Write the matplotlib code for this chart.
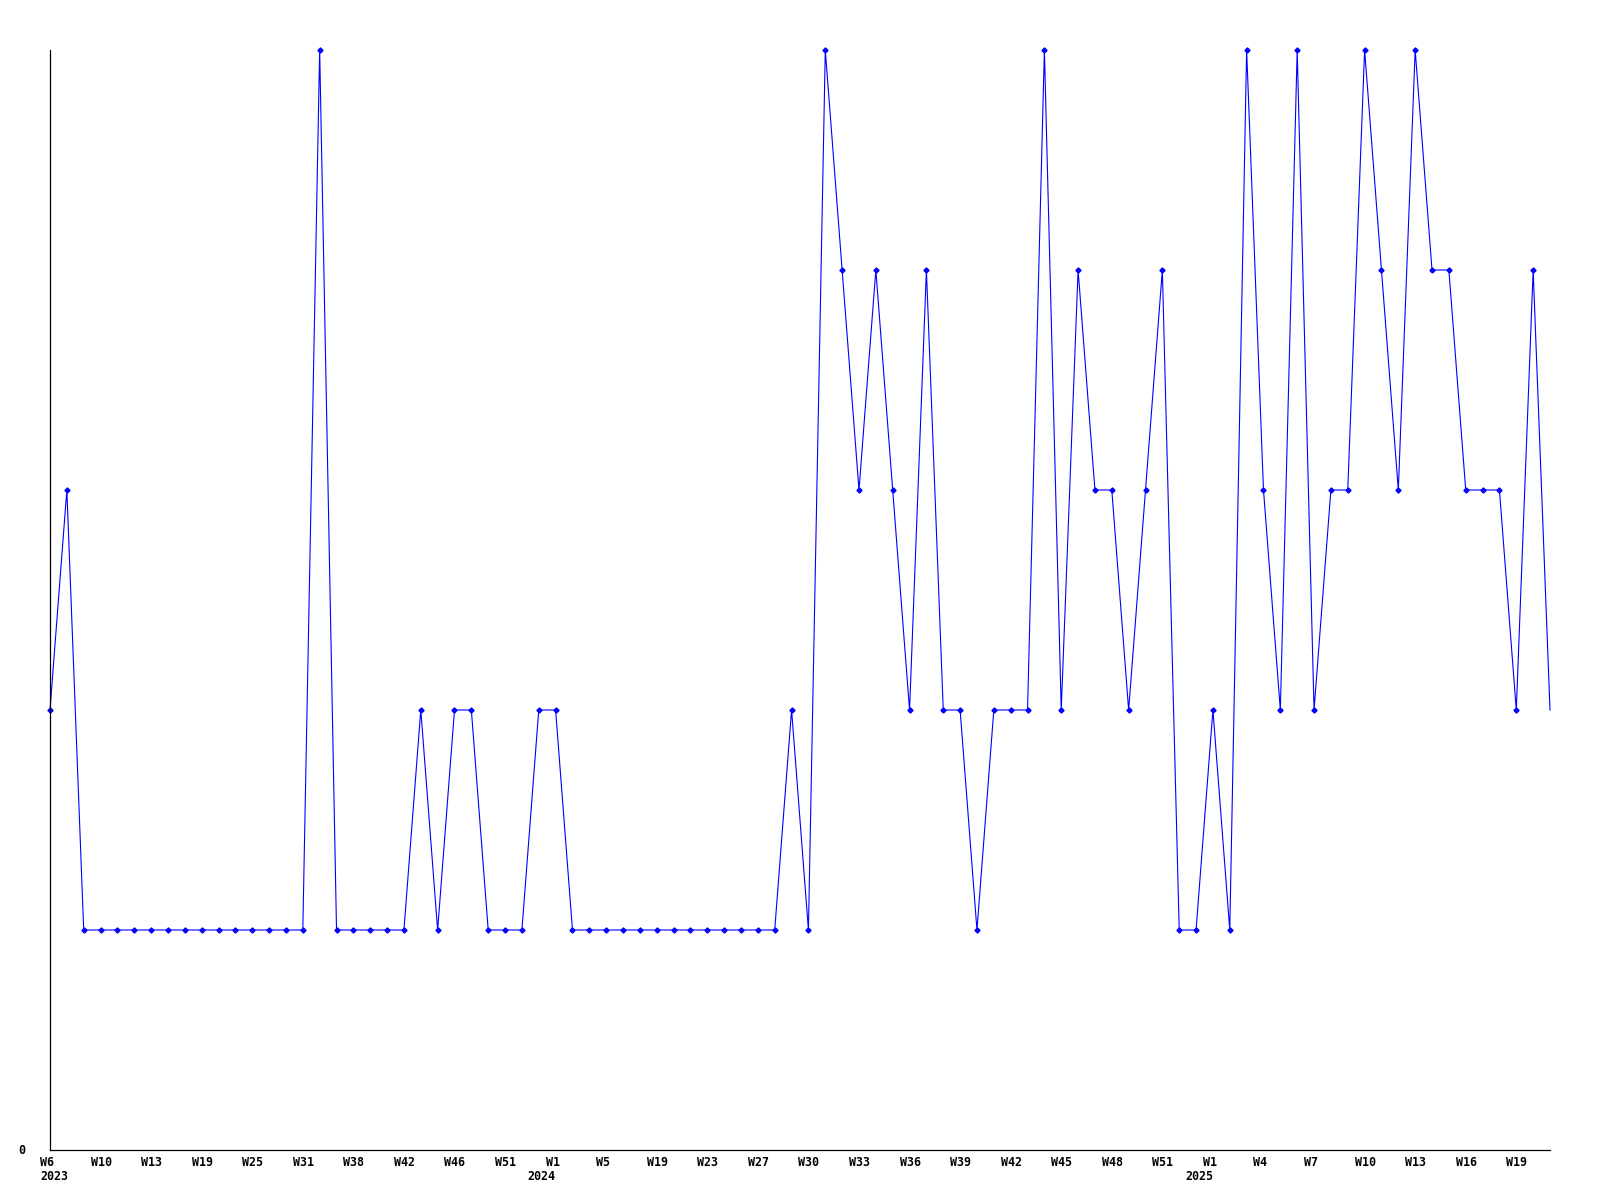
# weekly counts line chart, one point per week
import matplotlib.pyplot as plt
import matplotlib.transforms as mtransforms
import numpy as np

# weekly values, 90 weeks starting W6 2023
values = [2, 3, 1, 1, 1, 1, 1, 1, 1, 1, 1, 1, 1, 1, 1, 1, 5, 1, 1, 1,
          1, 1, 2, 1, 2, 2, 1, 1, 1, 2, 2, 1, 1, 1, 1, 1, 1, 1, 1, 1,
          1, 1, 1, 1, 2, 1, 5, 4, 3, 4, 3, 2, 4, 2, 2, 1, 2, 2, 2, 5,
          2, 4, 3, 3, 2, 3, 4, 1, 1, 2, 1, 5, 3, 2, 5, 2, 3, 3, 5, 4,
          3, 5, 4, 4, 3, 3, 3, 2, 4, 2]
# tick labels, one every 3 weeks
week_labels = ['W6', 'W10', 'W13', 'W19', 'W25', 'W31', 'W38', 'W42', 'W46', 'W51',
               'W1', 'W5', 'W19', 'W23', 'W27', 'W30', 'W33', 'W36', 'W39', 'W42',
               'W45', 'W48', 'W51', 'W1', 'W4', 'W7', 'W10', 'W13', 'W16', 'W19']
tick_step = 3
year_labels = {0: '2023', 30: '2024', 69: '2025'}

x = np.arange(len(values))

fig = plt.figure(figsize=(16, 12), dpi=100)
ax = fig.add_axes([50 / 1600, 50 / 1200, 1500 / 1600, 1100 / 1200])

ax.plot(x, values, color='#0000ff', linewidth=0.8, marker='D', markersize=2.6,
        markevery=list(range(len(values) - 1)), clip_on=False)

ax.set_xlim(0, len(values) - 1)
ax.set_ylim(0, 5)
for side in ['top', 'right']:
    ax.spines[side].set_visible(False)
for side in ['left', 'bottom']:
    ax.spines[side].set_linewidth(0.9)
    ax.spines[side].set_color('black')
ax.set_xticks([])
ax.set_yticks([])

font = dict(family='DejaVu Sans Mono', fontweight='bold', fontsize=8.4, color='black')
trans = mtransforms.blended_transform_factory(ax.transData, ax.transAxes)

# week labels under the axis
for i, lab in enumerate(week_labels):
    t = mtransforms.offset_copy(trans, fig=fig, x=-10, y=-12, units='dots')
    ax.text(x[i * tick_step], 0, lab, transform=t, ha='left', va='center', **font)

# year labels on a second row
for idx, yr in year_labels.items():
    dx = -10 if idx == 0 else -28
    t = mtransforms.offset_copy(trans, fig=fig, x=dx, y=-27, units='dots')
    ax.text(x[idx], 0, yr, transform=t, ha='left', va='center', **font)

# only the zero label on the y axis
t = mtransforms.offset_copy(ax.transData, fig=fig, x=-25, y=0, units='dots')
ax.text(0, 0, '0', transform=t, ha='right', va='center', **font)

plt.savefig('out.png', dpi=100)
